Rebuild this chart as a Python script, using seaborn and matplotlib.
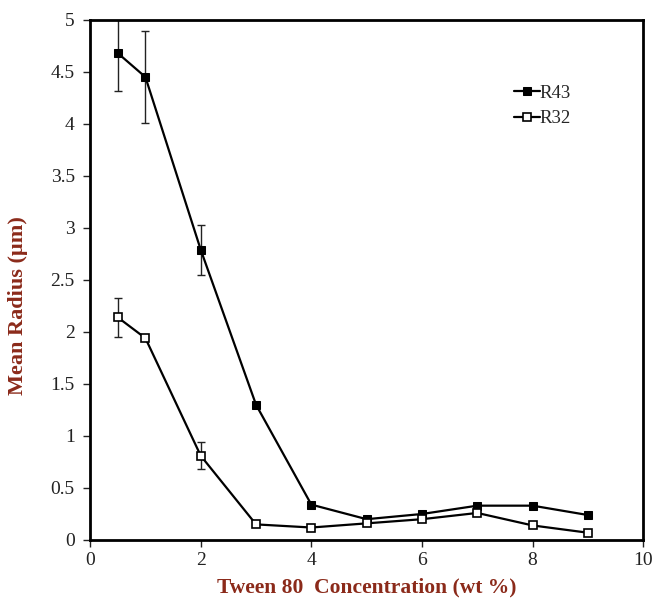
import matplotlib
matplotlib.use("Agg")
import matplotlib.pyplot as plt
import seaborn as sns
import pandas as pd
import numpy as np

conc = [0.5, 1, 2, 3, 4, 5, 6, 7, 8, 9]
r43 = [4.68, 4.45, 2.79, 1.30, 0.34, 0.20, 0.25, 0.33, 0.33, 0.24]
r32 = [2.14, 1.94, 0.81, 0.15, 0.12, 0.16, 0.20, 0.26, 0.14, 0.07]
r43_err_x = [0.5, 1, 2]
r43_err = [0.36, 0.44, 0.24]
r32_err_x = [0.5, 2]
r32_err = [0.19, 0.13]
r43_err_y = [4.68, 4.45, 2.79]
r32_err_y = [2.14, 0.81]

sns.set_style("white")
plt.rcParams['font.family'] = ['Liberation Serif', 'DejaVu Serif']

fig = plt.figure(figsize=(6.53, 6.01), dpi=100)
ax = fig.add_axes([0.138, 0.1015, 0.847, 0.8655])

df = pd.DataFrame({"conc": conc * 2, "radius": r43 + r32,
                   "series": ["R43"] * len(conc) + ["R32"] * len(conc)})

ax.errorbar(r43_err_x, r43_err_y, yerr=r43_err, fmt='none', ecolor='#222222',
            elinewidth=1.0, capsize=3, capthick=1.0, zorder=2)
ax.errorbar(r32_err_x, r32_err_y, yerr=r32_err, fmt='none', ecolor='#222222',
            elinewidth=1.0, capsize=3, capthick=1.0, zorder=2)

sns.lineplot(data=df[df.series == "R43"], x="conc", y="radius", ax=ax,
             color='black', lw=1.6, marker='s', markersize=6,
             markerfacecolor='black', markeredgecolor='black', label='R43', zorder=3)
sns.lineplot(data=df[df.series == "R32"], x="conc", y="radius", ax=ax,
             color='black', lw=1.6, marker='s', markersize=6,
             markerfacecolor='white', markeredgecolor='black', markeredgewidth=1.2,
             label='R32', zorder=3)

ax.set_xlim(0, 10)
ax.set_ylim(0, 5)
ax.set_xticks([0, 2, 4, 6, 8, 10])
ax.set_yticks([0, 0.5, 1, 1.5, 2, 2.5, 3, 3.5, 4, 4.5, 5])
ax.set_yticklabels(['0', '0.5', '1', '1.5', '2', '2.5', '3', '3.5', '4', '4.5', '5'])
ax.tick_params(axis='both', direction='out', length=5, width=1, labelsize=14,
               colors='#222222', left=True, bottom=True)
ax.tick_params(axis='x', pad=4)
ax.tick_params(axis='y', pad=6)

for s in ax.spines.values():
    s.set_linewidth(2)
    s.set_color('black')

red = '#8B2A1A'
ax.set_xlabel('Tween 80  Concentration (wt %)', fontsize=15.5, fontweight='bold',
              color=red, labelpad=6)
ax.set_ylabel('Mean Radius (\u00b5m)', fontsize=16, fontweight='bold', color=red)
ax.yaxis.set_label_coords(-0.112, 0.45)

leg = ax.legend(loc='upper left', bbox_to_anchor=(0.735, 0.908), frameon=False,
                fontsize=13.5, handlelength=1.4, handletextpad=0.0,
                labelspacing=0.45, markerscale=0.85)

fig.savefig('out.png', dpi=100)
